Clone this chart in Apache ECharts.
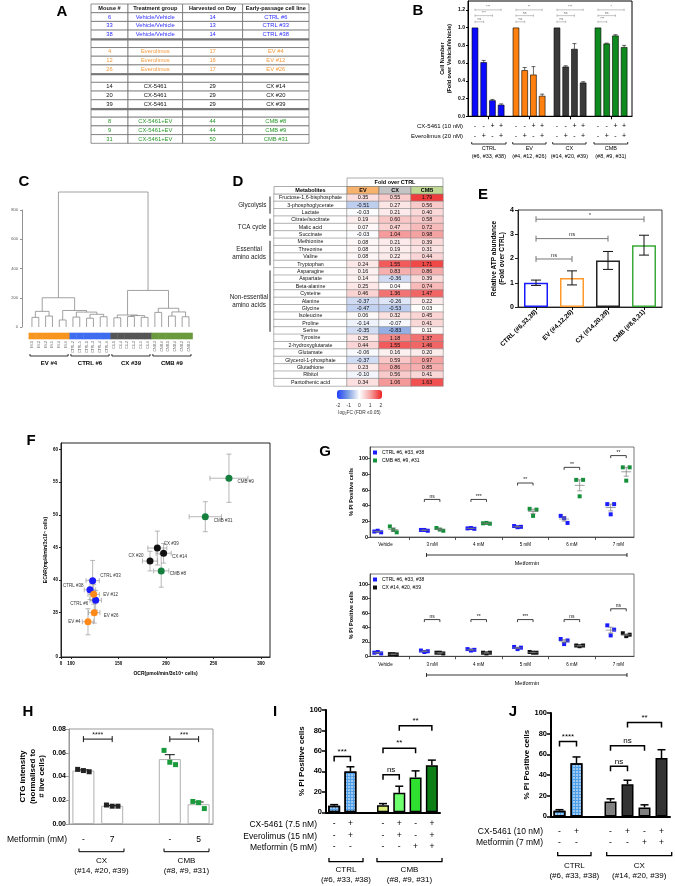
<!DOCTYPE html>
<html>
<head>
<meta charset="utf-8">
<script src="https://cdn.jsdelivr.net/npm/echarts@6.0.0/dist/echarts.min.js"></script>
<style>
html, body { margin: 0; padding: 0; background: #fff; }
#chart { width: 675px; height: 886px; }
</style>
</head>
<body>
<div id="chart"></div>
<script>
var FONT = 'Liberation Sans, Arial, Helvetica, sans-serif';

// ---------- A: mouse / cell line table ----------
var aHeader = ['Mouse #', 'Treatment group', 'Harvested on Day', 'Early-passage cell line'];
var aMouse = ['6', '33', '38', '', '4', '12', '26', '', '14', '20', '39', '', '8', '9', '31'];
var aTreatment = ['Vehicle/Vehicle', 'Vehicle/Vehicle', 'Vehicle/Vehicle', '', 'Everolimus', 'Everolimus', 'Everolimus', '', 'CX-5461', 'CX-5461', 'CX-5461', '', 'CX-5461+EV', 'CX-5461+EV', 'CX-5461+EV'];
var aDay = ['14', '13', '14', '', '17', '16', '17', '', '29', '29', '29', '', '44', '44', '50'];
var aCellLine = ['CTRL #6', 'CTRL #33', 'CTRL #38', '', 'EV #4', 'EV #12', 'EV #26', '', 'CX #14', 'CX #20', 'CX #39', '', 'CMB #8', 'CMB #9', 'CMB #31'];
var aRowGroup = [0, 0, 0, -1, 1, 1, 1, -1, 2, 2, 2, -1, 3, 3, 3];

// ---------- B: cell number ----------
var bGroups = ['CTRL', 'EV', 'CX', 'CMB'];
var bGroupIds = ['(#6, #33, #38)', '(#4, #12, #26)', '(#14, #20, #39)', '(#8, #9, #31)'];
var bCX = ['-', '-', '+', '+'];
var bEV = ['-', '+', '-', '+'];
var bMean = [[1.0, 0.61, 0.18, 0.13], [1.0, 0.52, 0.47, 0.23], [1.0, 0.56, 0.76, 0.38], [1.0, 0.82, 0.91, 0.78]];
var bErr = [[0, 0.02, 0.01, 0.01], [0, 0.03, 0.09, 0.02], [0, 0.01, 0.06, 0.01], [0, 0.005, 0.01, 0.02]];
var bSig = [['***', '***', 'ns'], ['**', 'ns', 'ns'], ['***', 'ns', 'ns'], ['*', 'ns', '***']];
var bSigY = [1.20, 1.135, 1.065];

// ---------- C: dendrogram ----------
var cLeaves = ['EV-1', 'EV-3', 'EV-2', 'EV-5', 'EV-4', 'EV-6', 'CTRL-2', 'CTRL-5', 'CTRL-1', 'CTRL-3', 'CTRL-4', 'CTRL-6',
  'CX-1', 'CX-4', 'CX-2', 'CX-3', 'CX-5', 'CX-6', 'CMB-3', 'CMB-6', 'CMB-1', 'CMB-4', 'CMB-2', 'CMB-5'];
var cLeafGroup = [0, 0, 0, 0, 0, 0, 1, 1, 1, 1, 1, 1, 2, 2, 2, 2, 2, 2, 3, 3, 3, 3, 3, 3];
var cGroupNames = ['EV #4', 'CTRL #6', 'CX #39', 'CMB #9'];
// [child a, child b, height]; new node ids start at 24
var cMerges = [[0, 1, 66], [2, 3, 75], [24, 25, 107], [4, 5, 48], [6, 7, 68], [8, 9, 60], [10, 11, 70], [29, 30, 87],
  [28, 31, 102], [27, 32, 113], [26, 33, 200], [12, 13, 63], [14, 15, 72], [16, 17, 66], [36, 37, 78], [35, 38, 82],
  [18, 19, 100], [20, 21, 75], [22, 23, 70], [41, 42, 103], [40, 43, 128], [39, 44, 250], [34, 45, 923]];

// ---------- D: metabolite heat table ----------
var dMetabolites = ['Fructose-1,6-bisphosphate', '3-phosphoglycerate', 'Lactate', 'Citrate/isocitrate', 'Malic acid', 'Succinate',
  'Methionine', 'Threonine', 'Valine', 'Tryptophan', 'Asparagine', 'Aspartate', 'Beta-alanine', 'Cysteine', 'Alanine', 'Glycine',
  'Isoleucine', 'Proline', 'Serine', 'Tyrosine', '2-hydroxyglutarate', 'Glutamate', 'Glycerol-1-phosphate', 'Glutathione', 'Ribitol', 'Pantothenic acid'];
var dCols = ['EV', 'CX', 'CMB'];
var dEV = [0.35, -0.51, -0.03, 0.19, 0.07, -0.03, 0.08, 0.08, 0.08, 0.24, 0.16, 0.14, 0.25, 0.46, -0.37, -0.47, 0.06, -0.14, -0.35, 0.25, 0.44, -0.06, -0.37, 0.23, -0.10, 0.34];
var dCX = [0.55, 0.27, 0.21, 0.60, 0.47, 1.04, 0.21, 0.19, 0.22, 1.55, 0.83, -0.36, 0.04, 1.36, -0.26, -0.53, 0.32, -0.07, -0.83, 1.18, 1.55, 0.16, 0.59, 0.86, 0.56, 1.06];
var dCMB = [1.79, 0.56, 0.40, 0.58, 0.72, 0.98, 0.39, 0.31, 0.44, 1.71, 0.86, 0.39, 0.74, 1.47, 0.22, 0.03, 0.45, 0.41, 0.11, 1.37, 1.46, 0.20, 0.97, 0.85, 0.41, 1.63];
var dPathways = [['Glycolysis', 0, 2], ['TCA cycle', 3, 5], ['Essential\namino acids', 6, 9], ['Non-essential\namino acids', 10, 18]];
var dScaleTicks = ['-2', '-1', '0', '1', '2'];

// ---------- E: ATP ----------
var eCats = ['CTRL (#6,33,38)', 'EV (#4,12,26)', 'CX (#14,20,39)', 'CMB (#8,9,31)'];
var eMean = [1.0, 1.2, 1.92, 2.55];
var eErr = [0.11, 0.29, 0.37, 0.41];
var eSig = [[0, 1, 1.98, 'ns'], [0, 2, 2.82, 'ns'], [0, 3, 3.62, '*']];

// ---------- F: OCR vs ECAR ----------
var fNames = ['CTRL #6', 'CTRL #33', 'CTRL #38', 'EV #4', 'EV #12', 'EV #26', 'CX #14', 'CX #20', 'CX #39', 'CMB #8', 'CMB #9', 'CMB #31'];
var fGroup = [0, 0, 0, 1, 1, 1, 2, 2, 2, 3, 3, 3];
var fOCR = [126, 122.8, 120, 117.9, 123.9, 124.5, 197.5, 183.2, 190.9, 195, 266.3, 241.4];
var fECAR = [36.9, 39.9, 38.5, 33.6, 37.8, 35.0, 44.1, 42.9, 44.9, 41.4, 55.6, 49.7];
var fOCRerr = [6, 7, 6, 6, 6, 6, 8, 8, 10, 8, 20, 17];
var fECARerr = [1.5, 3.1, 1.5, 2.0, 1.5, 1.6, 1.5, 1.5, 2.6, 2.5, 3.7, 2.3];

// ---------- G: PI positive, metformin dose ----------
var gDoses = ['Vehicle', '3 mM', '4 mM', '5 mM', '6 mM', '7 mM'];
var gCtrlTop = [[7, 6, 8], [9, 8, 9], [11, 10.5, 11.5], [14, 13, 12.5], [27, 18, 24], [42, 42, 29]];
var gCmb = [[13.5, 6, 9], [11.5, 8, 9.5], [17.5, 17, 18], [36, 35, 27], [73, 73, 52], [89, 89, 72]];
var gSigTop = ['', 'ns', '***', '**', '**', '**'];
var gSigTopY = [0, 48, 48, 69, 89, 104];
var gCtrlBot = [[5, 4, 6], [8, 7, 6], [10, 9, 8], [13, 12, 10], [24, 22, 17], [43, 37, 29]];
var gCx = [[3, 2.5, 3], [5, 4, 5], [5, 5, 4], [6, 5, 5], [15, 15, 14], [32, 30, 28]];
var gSigBot = ['', 'ns', '**', '***', 'ns', 'ns'];
var gSigBotY = [0, 51, 51, 51, 51, 66];

// ---------- H: CTG ----------
var hLabels = ['-', '7', '', '-', '5'];
var hCx = [[0.046, 0.044, 0.045], [0.016, 0.015, 0.015]];
var hCmb = [[0.062, 0.050, 0.052], [0.019, 0.013, 0.018]];
var hSig = [[0, 1, 0.0715, '****'], [3, 4, 0.0715, '***']];

// ---------- I: CTRL vs CMB ----------
var iCX = ['-', '+', '', '-', '+', '-', '+'];
var iEV = ['-', '+', '', '-', '+', '-', '+'];
var iMet = ['-', '-', '', '-', '-', '+', '+'];
var iMean = [6.5, 40, null, 7, 19, 34, 46];
var iErr = [1, 4.5, null, 1.5, 6.5, 6.5, 5];
var iSig = [[0, 1, 54.5, '***'], [3, 4, 36.6, 'ns'], [3, 5, 62.7, '**'], [4, 6, 84.6, '**']];

// ---------- J: CTRL vs CX ----------
var jCX = ['-', '+', '', '-', '+', '-', '+'];
var jMet = ['-', '-', '', '-', '-', '+', '+'];
var jMean = [5.5, 51.5, null, 14.5, 31, 8.7, 56.5];
var jErr = [1, 6, null, 2.5, 4, 2.5, 8];
var jSig = [[0, 1, 72.5, '****'], [3, 4, 48.4, 'ns'], [3, 5, 68.4, 'ns'], [4, 6, 90.9, '**']];

// ================= helpers =================
function fnt(size, bold) { return (bold ? 'bold ' : '') + size + 'px ' + FONT; }
function mean(a) { return a.reduce(function (s, v) { return s + v; }, 0) / a.length; }
function sem(a) {
  var m = mean(a);
  var v = a.reduce(function (s, x) { return s + (x - m) * (x - m); }, 0) / (a.length - 1);
  return Math.sqrt(v / a.length);
}
function tx(x, y, s, size, o) {
  o = o || {};
  return { type: 'text', x: x, y: y, silent: true, z: 50,
    style: { text: s, font: fnt(size, o.bold), fill: o.color || '#000', align: o.align || 'center', textAlign: o.align || 'center',
      verticalAlign: 'middle', textVerticalAlign: 'middle', lineHeight: o.lh } };
}
function pl(pts, lw, color) {
  return { type: 'polyline', silent: true, z: 50, shape: { points: pts }, style: { stroke: color || '#000', lineWidth: lw || 1, fill: null } };
}
function lineEl(x1, y1, x2, y2, st) { return { type: 'line', shape: { x1: x1, y1: y1, x2: x2, y2: y2 }, style: st }; }

// error bars: pts [x, y, ey, ex]
function errBars(ax, pts, o) {
  return {
    type: 'custom', xAxisIndex: ax, yAxisIndex: ax, silent: true, z: o.z || 4, clip: false,
    data: pts.map(function (p) { return [p[0], p[1]]; }),
    renderItem: function (params, api) {
      var p = pts[params.dataIndex], st = { stroke: o.color, lineWidth: o.lw }, kids = [];
      var c = api.coord([p[0], p[1]]);
      var hi = api.coord([p[0], p[1] + p[2]]);
      var lo = o.up ? c : api.coord([p[0], p[1] - p[2]]);
      kids.push(lineEl(c[0], lo[1], c[0], hi[1], st));
      kids.push(lineEl(c[0] - o.cap, hi[1], c[0] + o.cap, hi[1], st));
      if (!o.up) kids.push(lineEl(c[0] - o.cap, lo[1], c[0] + o.cap, lo[1], st));
      if (p[3]) {
        var l = api.coord([p[0] - p[3], p[1]]), r = api.coord([p[0] + p[3], p[1]]);
        kids.push(lineEl(l[0], c[1], r[0], c[1], st));
        kids.push(lineEl(l[0], c[1] - o.cap, l[0], c[1] + o.cap, st));
        kids.push(lineEl(r[0], c[1] - o.cap, r[0], c[1] + o.cap, st));
      }
      return { type: 'group', children: kids };
    }
  };
}

// significance brackets: items [x1, x2, y, text]
function sigMarks(ax, items, o) {
  return {
    type: 'custom', xAxisIndex: ax, yAxisIndex: ax, silent: true, z: 6, clip: false,
    data: items.map(function (s) { return [s[0], s[2]]; }),
    renderItem: function (params, api) {
      var s = items[params.dataIndex];
      var a = api.coord([s[0], s[2]]), b = api.coord([s[1], s[2]]);
      var st = { stroke: o.color, lineWidth: o.lw, fill: null }, kids = [];
      if (o.mode === 'down') {
        kids.push({ type: 'polyline', shape: { points: [[a[0], a[1] + o.tick], [a[0], a[1]], [b[0], b[1]], [b[0], b[1] + o.tick]] }, style: st });
      } else {
        kids.push(lineEl(a[0], a[1], b[0], b[1], st));
        kids.push(lineEl(a[0], a[1] - o.tick, a[0], a[1] + o.tick, st));
        kids.push(lineEl(b[0], b[1] - o.tick, b[0], b[1] + o.tick, st));
      }
      kids.push({ type: 'text', x: (a[0] + b[0]) / 2, y: a[1] - o.gap,
        style: { text: s[3], font: fnt(o.size), fill: o.textColor || o.color, align: 'center', textAlign: 'center', verticalAlign: 'bottom', textVerticalAlign: 'bottom' } });
      return { type: 'group', children: kids };
    }
  };
}

// mean line + SEM for dot plots: stats [x, mean, sem]
function meanSem(ax, stats, o) {
  return {
    type: 'custom', xAxisIndex: ax, yAxisIndex: ax, silent: true, z: 5, clip: false,
    data: stats.map(function (s) { return [s[0], s[1]]; }),
    renderItem: function (params, api) {
      var s = stats[params.dataIndex], st = { stroke: o.color, lineWidth: o.lw };
      var m = api.coord([s[0], s[1]]), l = api.coord([s[0] - o.half, s[1]]), r = api.coord([s[0] + o.half, s[1]]);
      var hi = api.coord([s[0], s[1] + s[2]]), lo = api.coord([s[0], s[1] - s[2]]);
      return { type: 'group', children: [
        lineEl(l[0], m[1], r[0], m[1], st),
        lineEl(m[0], lo[1], m[0], hi[1], st),
        lineEl(m[0] - o.cap, hi[1], m[0] + o.cap, hi[1], st),
        lineEl(m[0] - o.cap, lo[1], m[0] + o.cap, lo[1], st)
      ] };
    }
  };
}

function valAxis(grid, o) {
  var a = {
    gridIndex: grid, type: 'value', min: o.min, max: o.max, interval: o.interval, inverse: o.inverse,
    axisLine: { show: true, onZero: false, lineStyle: { color: o.lineColor || '#000', width: o.lw || 1 } },
    axisTick: { show: o.tick !== false, length: o.tickLen || 3, lineStyle: { color: o.lineColor || '#000', width: o.tickW || o.lw || 1 } },
    axisLabel: { show: true, fontSize: o.fs || 6, fontWeight: o.bold ? 'bold' : 'normal', color: o.labelColor || '#000',
      margin: o.margin == null ? 3 : o.margin, fontFamily: FONT, lineHeight: o.lh },
    splitLine: { show: false }, splitArea: { show: false }
  };
  if (o.ticks) { a.axisTick.customValues = o.ticks; a.axisLabel.customValues = o.labels || o.ticks; }
  if (o.labels && !o.ticks) a.axisLabel.customValues = o.labels;
  if (o.tickValues) a.axisTick.customValues = o.tickValues;
  if (o.formatter) a.axisLabel.formatter = o.formatter;
  if (o.name) {
    a.name = o.name; a.nameLocation = 'middle'; a.nameGap = o.nameGap;
    if (o.vertical) a.nameRotate = 90;
    a.nameTextStyle = { fontSize: o.nameSize, fontWeight: 'bold', color: '#000', lineHeight: o.nameLh, fontFamily: FONT };
  }
  return a;
}
function catAxis(grid, data, o) {
  return {
    gridIndex: grid, type: 'category', data: data,
    axisLine: { show: true, onZero: false, lineStyle: { color: o.lineColor || '#000', width: o.lw || 1 } },
    axisTick: { show: !!o.tick, alignWithLabel: true, length: 3, lineStyle: { color: '#000', width: o.lw || 1 } },
    axisLabel: { interval: 0, fontSize: o.fs, fontWeight: o.bold ? 'bold' : 'normal', color: '#000', margin: o.margin,
      rotate: o.rotate || 0, lineHeight: o.lh, formatter: o.formatter, fontFamily: FONT },
    splitLine: { show: false }
  };
}
function hidden(grid, type, o) {
  var a = { gridIndex: grid, type: type, show: false };
  for (var k in o) a[k] = o[k];
  return a;
}

// ================= grids =================
var grids = [
  { left: 468, top: 1, width: 164, height: 115.3, show: true, borderColor: '#000', borderWidth: 1 },   // 0 B
  { left: 22, top: 210, width: 170, height: 117 },                                                  // 1 C
  { left: 274, top: 194, width: 73, height: 192 },                                                  // 2 D names
  { left: 347, top: 194, width: 96, height: 192 },                                                  // 3 D values
  { left: 518, top: 210, width: 144, height: 97, show: true, borderColor: '#444', borderWidth: 1 }, // 4 E
  { left: 61, top: 443, width: 209, height: 214, show: true, borderColor: '#222', borderWidth: 1 }, // 5 F
  { left: 370, top: 447, width: 264, height: 90, show: true, borderColor: '#555', borderWidth: 0.8 }, // 6 G top
  { left: 370, top: 574, width: 264, height: 82.3, show: true, borderColor: '#555', borderWidth: 0.8 }, // 7 G bottom
  { left: 69, top: 729, width: 144, height: 95, show: true, borderColor: '#999', borderWidth: 1 },  // 8 H
  { left: 326, top: 710, width: 114, height: 102.3 },                                               // 9 I
  { left: 551, top: 713, width: 119, height: 103.4 },                                               // 10 J
  { left: 91, top: 4, width: 218, height: 139.3 }                                                   // 11 A
];
grids.forEach(function (g) { g.containLabel = false; g.outerBoundsMode = 'none'; g.backgroundColor = 'transparent'; });

// ================= axes =================
var bPos = [];
for (var g = 0; g < 4; g++) for (var i = 0; i < 4; i++) bPos.push(g * 4.7 + i);
var bTickVals = [0, 0.2, 0.4, 0.6, 0.8, 1.0, 1.2];

var xAxes = [], yAxes = [];
// B
xAxes[0] = valAxis(0, { min: -0.8, max: 18.0, fs: 7, margin: 5, lh: 10, tickLen: 3, lw: 1,
  tickValues: [1.5, 6.2, 10.9, 15.6], labels: bPos,
  formatter: function (v) {
    var k = bPos.findIndex(function (p) { return Math.abs(p - v) < 1e-6; });
    if (k < 0) return '';
    return bCX[k % 4] + '\n' + bEV[k % 4];
  } });
yAxes[0] = valAxis(0, { min: 0, max: 1.3, ticks: bTickVals, fs: 5, bold: true, tickLen: 2, margin: 3,
  formatter: function (v) { return v.toFixed(1); },
  name: 'Cell Number\n(Fold over Vehicle/Vehicle)', nameGap: 15, nameSize: 5.5, nameLh: 7, vertical: true });
// C
xAxes[1] = hidden(1, 'value', { min: -1.46, max: 23.44 });
yAxes[1] = valAxis(1, { min: 0, max: 800, interval: 200, fs: 4, lineColor: '#777', labelColor: '#555', lw: 0.8, tickLen: 2, margin: 4 });
// D
xAxes[2] = hidden(2, 'category', { data: ['Metabolites'] });
yAxes[2] = hidden(2, 'category', { data: dMetabolites, inverse: true });
xAxes[3] = hidden(3, 'category', { data: dCols });
yAxes[3] = hidden(3, 'category', { data: dMetabolites, inverse: true });
// E
xAxes[4] = catAxis(4, eCats, { fs: 6.5, bold: true, margin: 4, rotate: 45, tick: true, lineColor: '#222' });
yAxes[4] = valAxis(4, { min: 0, max: 4, interval: 1, fs: 7, bold: true, margin: 4, tickLen: 3, lineColor: '#222',
  name: 'Relative ATP abundance\n(Fold over CTRL)', nameGap: 12, nameSize: 6.5, nameLh: 8, vertical: true });
// F
xAxes[5] = valAxis(5, { min: 89.5, max: 309.5, ticks: [89.5, 100, 150, 200, 250, 300], fs: 4.5, bold: true, tickLen: 2, margin: 4, lineColor: '#222',
  formatter: function (v) { return v < 95 ? '0' : String(v); },
  name: 'OCR(pmol/min/3x10\u2074 cells)', nameGap: 14, nameSize: 5 });
yAxes[5] = valAxis(5, { min: 28.2, max: 61, ticks: [28.2, 35, 40, 45, 50, 55, 60], fs: 4.5, bold: true, tickLen: 2, margin: 3, lineColor: '#222',
  formatter: function (v) { return v < 30 ? '0' : String(v); },
  name: 'ECAR(mpH/min/3x10\u2074 cells)', nameGap: 13, nameSize: 5, vertical: true });
// G
[6, 7].forEach(function (gi) {
  xAxes[gi] = valAxis(gi, { min: -0.5, max: 16.5, tickValues: [2, 5, 8, 11, 14], labels: [0.5, 3.5, 6.5, 9.5, 12.5, 15.5],
    fs: 4.5, margin: gi === 6 ? 5.5 : 6, tickLen: 3, lw: 0.8, lineColor: '#333',
    formatter: function (v) { return gDoses[Math.round((v - 0.5) / 3)]; } });
  yAxes[gi] = valAxis(gi, { min: 0, max: gi === 6 ? 115 : 114.3, ticks: [0, 20, 40, 60, 80, 100], fs: 5.5, bold: true,
    tickLen: 2, margin: 2, lw: 0.8, lineColor: '#333',
    name: '% PI Positive cells', nameGap: 13, nameSize: 5.5, vertical: true });
});
// H
xAxes[8] = valAxis(8, { min: -0.5, max: 4.5, labels: [0, 1, 3, 4], tick: false, fs: 8.5, margin: 11, lineColor: '#999',
  formatter: function (v) { return hLabels[Math.round(v)]; } });
yAxes[8] = valAxis(8, { min: 0, max: 0.08, interval: 0.02, fs: 7, bold: true, margin: 3, tickLen: 3, lineColor: '#999',
  formatter: function (v) { return v.toFixed(2); },
  name: 'CTG intensity\n(normalised to\n# live cells)', nameGap: 22, nameSize: 8, nameLh: 9.5, vertical: true });
// I
xAxes[9] = catAxis(9, ['a', 'b', 'gap', 'c', 'd', 'e', 'f'], { fs: 8.5, margin: 6, lh: 11.3, lw: 2,
  formatter: function (v, idx) { return iCX[idx] ? iCX[idx] + '\n' + iEV[idx] + '\n' + iMet[idx] : ''; } });
yAxes[9] = valAxis(9, { min: 0, max: 100, interval: 20, fs: 7.5, bold: true, margin: 4, tickLen: 4, lw: 2, tickW: 1.5,
  name: '% PI Positive cells', nameGap: 19, nameSize: 8, vertical: true });
// J
xAxes[10] = catAxis(10, ['a', 'b', 'gap', 'c', 'd', 'e', 'f'], { fs: 8.5, margin: 10, lh: 11, lw: 2,
  formatter: function (v, idx) { return jCX[idx] ? jCX[idx] + '\n' + jMet[idx] : ''; } });
yAxes[10] = valAxis(10, { min: 0, max: 100, interval: 20, fs: 7.5, bold: true, margin: 4, tickLen: 4, lw: 2, tickW: 1.5,
  name: '% PI Positive cells', nameGap: 19, nameSize: 8, vertical: true });
// A
xAxes[11] = hidden(11, 'value', { min: 0, max: 218 });
yAxes[11] = hidden(11, 'value', { min: 0, max: 16, inverse: true });

// ================= series =================
var series = [];

// A table
var aEdges = [0, 37, 91.6, 151.6, 218];
var aColors = ['#2f2fff', '#f59a3c', '#111111', '#2a9a2a'];
var aCells = [];
for (var r = 0; r <= aMouse.length; r++) for (var c = 0; c < 4; c++) aCells.push([c, r]);
series.push({
  type: 'custom', xAxisIndex: 11, yAxisIndex: 11, silent: true, clip: false, data: aCells,
  renderItem: function (params, api) {
    var c = api.value(0), r = api.value(1);
    var p0 = api.coord([aEdges[c], r]), p1 = api.coord([aEdges[c + 1], r + 1]);
    var s, col = '#111', bold = false, blank = false;
    if (r === 0) { s = aHeader[c]; bold = true; }
    else {
      var k = r - 1;
      s = [aMouse, aTreatment, aDay, aCellLine][c][k];
      blank = aRowGroup[k] < 0;
      if (!blank) col = aColors[aRowGroup[k]];
    }
    var kids = [{ type: 'rect', shape: { x: p0[0], y: p0[1], width: p1[0] - p0[0], height: p1[1] - p0[1] },
      style: { fill: '#fff', stroke: '#666', lineWidth: 0.7 } }];
    if (blank) kids.push(lineEl(p0[0], p0[1] + 0.9, p1[0], p0[1] + 0.9, { stroke: '#777', lineWidth: 1.6 }));
    kids.push({ type: 'text', x: (p0[0] + p1[0]) / 2, y: (p0[1] + p1[1]) / 2,
      style: { text: s, font: fnt(bold ? 5.6 : 5.8, bold), fill: col, align: 'center', textAlign: 'center', verticalAlign: 'middle', textVerticalAlign: 'middle' } });
    return { type: 'group', children: kids };
  }
});

// B bars
var bColors = ['#0a0aff', '#ff800e', '#3a3a3a', '#0e8a1e'];
var bBarData = [], bErrPts = [], bSigItems = [];
bMean.forEach(function (vals, g) {
  vals.forEach(function (v, i) {
    bBarData.push({ value: [bPos[g * 4 + i], v], itemStyle: { color: bColors[g], borderColor: '#000', borderWidth: 0.6 } });
    if (bErr[g][i] > 0) bErrPts.push([bPos[g * 4 + i], v, bErr[g][i]]);
  });
  for (var s = 0; s < 3; s++) bSigItems.push([bPos[g * 4], bPos[g * 4 + 3 - s], bSigY[s], bSig[g][s]]);
});
series.push({ type: 'bar', xAxisIndex: 0, yAxisIndex: 0, barWidth: 6.5, data: bBarData, silent: true });
series.push(errBars(0, bErrPts, { color: '#000', lw: 0.6, cap: 2, up: true }));
series.push(sigMarks(0, bSigItems, { mode: 'cap', color: '#888', textColor: '#666', lw: 0.5, tick: 1.2, size: 3.5, gap: 0.5 }));

// C dendrogram
var cColors = ['#f7951e', '#3d6cf0', '#555555', '#6b9a3c'];
var cNodeX = cLeaves.map(function (_, i) { return i; });
var cNodeH = cLeaves.map(function () { return 0; });
cMerges.forEach(function (m) { cNodeX.push((cNodeX[m[0]] + cNodeX[m[1]]) / 2); cNodeH.push(m[2]); });
series.push({
  type: 'custom', xAxisIndex: 1, yAxisIndex: 1, silent: true, clip: false,
  data: cMerges.map(function (m, k) { return [cNodeX[24 + k], m[2]]; }),
  renderItem: function (params, api) {
    var m = cMerges[params.dataIndex];
    var a = api.coord([cNodeX[m[0]], cNodeH[m[0]]]), b = api.coord([cNodeX[m[1]], cNodeH[m[1]]]);
    var t = api.coord([0, m[2]])[1];
    return { type: 'polyline', shape: { points: [a, [a[0], t], [b[0], t], b] }, style: { stroke: '#8a8a8a', lineWidth: 0.8, fill: null } };
  }
});
series.push({
  type: 'custom', xAxisIndex: 1, yAxisIndex: 1, silent: true, clip: false,
  data: cLeaves.map(function (_, i) { return [i, 0]; }),
  renderItem: function (params, api) {
    var i = params.dataIndex, l = api.coord([i - 0.5, 0]), r = api.coord([i + 0.5, 0]);
    return { type: 'group', children: [
      { type: 'rect', shape: { x: l[0], y: l[1] + 5.7, width: r[0] - l[0] + 0.4, height: 6.6 }, style: { fill: cColors[cLeafGroup[i]] } },
      { type: 'text', x: (l[0] + r[0]) / 2, y: l[1] + 14, rotation: Math.PI / 2,
        style: { text: cLeaves[i], font: fnt(3.4), fill: '#555', align: 'right', textAlign: 'right', verticalAlign: 'middle', textVerticalAlign: 'middle' } }
    ] };
  }
});

// D heat table
series.push({
  type: 'heatmap', xAxisIndex: 2, yAxisIndex: 2, silent: true,
  data: dMetabolites.map(function (n, i) { return { value: [0, i, 0], name: n }; }),
  itemStyle: { color: '#fff', borderColor: '#888', borderWidth: 0.6 },
  label: { show: true, fontSize: 5.3, color: '#111', fontFamily: FONT, formatter: function (p) { return p.name; } }
});
var dSeriesIndex = series.length;
var dData = [];
[dEV, dCX, dCMB].forEach(function (col, c) { col.forEach(function (v, r) { dData.push([c, r, v]); }); });
series.push({
  type: 'heatmap', xAxisIndex: 3, yAxisIndex: 3, silent: true, data: dData,
  itemStyle: { borderColor: '#888', borderWidth: 0.6 },
  label: { show: true, fontSize: 5.5, color: '#111', fontFamily: FONT, formatter: function (p) { return p.value[2].toFixed(2); } }
});

// E
var eColors = ['#1a1aff', '#ff9a2a', '#222222', '#3aaa3a'];
series.push({ type: 'bar', xAxisIndex: 4, yAxisIndex: 4, barWidth: 24, silent: true,
  data: eMean.map(function (v, i) { return { value: v, itemStyle: { color: '#fff', borderColor: eColors[i], borderWidth: 1.5 } }; }) });
series.push(errBars(4, eMean.map(function (v, i) { return [i, v, eErr[i]]; }), { color: '#111', lw: 1, cap: 5 }));
series.push(sigMarks(4, eSig, { mode: 'cap', color: '#777', textColor: '#333', lw: 1, tick: 3, size: 6, gap: 1 }));

// F
var fColors = ['#1a1aff', '#ff8a1a', '#111111', '#15803d'];
var fLabelPos = [['left', [-1, 4]], ['right', [1, -5]], ['left', [0, -4]], ['left', [-1, 0]], ['right', [3, 0]], ['right', [3, 3]],
  ['right', [2, 4]], ['left', [0, -5]], ['right', [0, -4]], ['right', [2, 3]], ['right', [2, 4]], ['right', [2, 4]]];
series.push(errBars(5, fNames.map(function (_, i) { return [fOCR[i], fECAR[i], fECARerr[i], fOCRerr[i]]; }),
  { color: '#9a9a9a', lw: 0.7, cap: 2.5 }));
[0, 1, 2, 3].forEach(function (g) {
  var pts = [];
  fNames.forEach(function (n, i) {
    if (fGroup[i] !== g) return;
    pts.push({ value: [fOCR[i], fECAR[i]], name: n, label: { position: fLabelPos[i][0], offset: fLabelPos[i][1] } });
  });
  series.push({ type: 'scatter', xAxisIndex: 5, yAxisIndex: 5, symbolSize: 7, silent: true, z: 6, data: pts,
    itemStyle: { color: fColors[g], opacity: 1 },
    label: { show: true, fontSize: 4.5, color: '#333', fontFamily: FONT, distance: 3, formatter: function (p) { return p.name; } } });
});

// G
var gJit = [-0.22, 0.22, 0];
function gPanel(ax, ctrl, other, ctrlName, otherName, otherColor, sigText, sigY) {
  var cPts = [], oPts = [], stats = [], sigs = [];
  ctrl.forEach(function (reps, d) {
    reps.forEach(function (v, k) { cPts.push([d * 3 + gJit[k], v]); });
    other[d].forEach(function (v, k) { oPts.push([d * 3 + 1 + gJit[k], v]); });
    stats.push([d * 3, mean(reps), sem(reps)]);
    stats.push([d * 3 + 1, mean(other[d]), sem(other[d])]);
    if (sigText[d]) sigs.push([d * 3, d * 3 + 1, sigY[d], sigText[d]]);
  });
  series.push({ type: 'scatter', name: ctrlName, xAxisIndex: ax, yAxisIndex: ax, symbol: 'rect', symbolSize: 4, silent: true,
    itemStyle: { color: '#1a1aff', opacity: 1 }, data: cPts });
  series.push({ type: 'scatter', name: otherName, xAxisIndex: ax, yAxisIndex: ax, symbol: 'rect', symbolSize: 4, silent: true,
    itemStyle: { color: otherColor, opacity: 1 }, data: oPts });
  series.push(meanSem(ax, stats, { color: '#777', lw: 0.7, half: 0.32, cap: 2.5 }));
  series.push(sigMarks(ax, sigs, { mode: 'down', color: '#111', lw: 0.8, tick: 2.5, size: 5, gap: 0.5 }));
}
gPanel(6, gCtrlTop, gCmb, 'CTRL #6, #33, #38', 'CMB #8, #9, #31', '#15903a', gSigTop, gSigTopY);
gPanel(7, gCtrlBot, gCx, 'CTRL #6, #33, #38 ', 'CX #14, #20, #39', '#111111', gSigBot, gSigBotY);

// H
var hJit = [-0.2, 0.2, 0];
var hGroups = [[0, hCx[0], '#222'], [1, hCx[1], '#222'], [3, hCmb[0], '#1a9a3a'], [4, hCmb[1], '#1a9a3a']];
series.push({ type: 'bar', xAxisIndex: 8, yAxisIndex: 8, barWidth: 22, silent: true,
  data: hGroups.map(function (h) { return [h[0], mean(h[1])]; }),
  itemStyle: { color: '#fff', borderColor: '#b0b0b0', borderWidth: 1 } });
series.push(errBars(8, hGroups.map(function (h) { return [h[0], mean(h[1]), sem(h[1])]; }), { color: '#111', lw: 1, cap: 5, up: true }));
[['#222', 0, 2], ['#1a9a3a', 2, 4]].forEach(function (cfg) {
  var pts = [];
  hGroups.slice(cfg[1], cfg[2]).forEach(function (h) { h[1].forEach(function (v, k) { pts.push([h[0] + hJit[k], v]); }); });
  series.push({ type: 'scatter', xAxisIndex: 8, yAxisIndex: 8, symbol: 'rect', symbolSize: 5, silent: true, z: 6,
    itemStyle: { color: cfg[0], opacity: 1 }, data: pts });
});
series.push(sigMarks(8, hSig, { mode: 'cap', color: '#111', lw: 1, tick: 3, size: 7, gap: 1 }));

// I and J
var hatch = { symbol: 'rect', symbolSize: 1, color: 'rgba(255,255,255,0.45)', dashArrayX: [2, 1], dashArrayY: [2, 1] };
function pairPanel(ax, means, errs, colors, sigs) {
  series.push({ type: 'bar', xAxisIndex: ax, yAxisIndex: ax, barWidth: 12, silent: true,
    data: means.map(function (v, i) {
      if (v == null) return '-';
      var st = { color: colors[i], borderColor: '#000', borderWidth: 1.5 };
      if (i < 2) st.decal = hatch;
      return { value: v, itemStyle: st };
    }) });
  var pts = [];
  means.forEach(function (v, i) { if (v != null) pts.push([i, v, errs[i]]); });
  series.push(errBars(ax, pts, { color: '#000', lw: 1.5, cap: 4, up: true }));
  series.push(sigMarks(ax, sigs, { mode: 'down', color: '#000', lw: 1.5, tick: 5, size: 8, gap: 1 }));
}
pairPanel(9, iMean, iErr, ['#4f9fe8', '#4f9fe8', null, '#dbf07c', '#6dff6d', '#30e030', '#0d7f16'], iSig);
pairPanel(10, jMean, jErr, ['#4f9fe8', '#4f9fe8', null, '#808080', '#333333', '#808080', '#333333'], jSig);

// ================= graphics (panel letters, row titles, brackets) =================
var gfx = [];
[['A', 62, 12], ['B', 418, 11], ['C', 24, 182], ['D', 238, 182], ['E', 483, 195], ['F', 31, 441],
 ['G', 325, 452], ['H', 28, 712], ['I', 275, 712], ['J', 513, 712]].forEach(function (l) {
  gfx.push(tx(l[1], l[2], l[0], 15, { bold: true }));
});

// B
gfx.push(tx(463, 126, 'CX-5461 (10 nM)', 6, { align: 'right' }));
gfx.push(tx(463, 136, 'Everolimus (20 nM)', 6, { align: 'right' }));
[[471.7, 506], [512.7, 546], [552.7, 586], [594, 627.7]].forEach(function (b, g) {
  gfx.push(pl([[b[0], 142], [b[0], 144], [b[1], 144], [b[1], 142]], 0.8));
  gfx.push(tx((b[0] + b[1]) / 2, 148.5, bGroups[g], 5.5));
  gfx.push(tx((b[0] + b[1]) / 2, 156, bGroupIds[g], 5.5));
});

// C
function cpx(i) { return 22 + (i + 1.46) * 170 / 24.9; }
[0, 1, 2, 3].forEach(function (g) {
  var x1 = cpx(g * 6) - 2, x2 = cpx(g * 6 + 5) + 2;
  gfx.push(pl([[x1, 354], [x1, 356], [x2, 356], [x2, 354]], 0.8));
  gfx.push(tx((x1 + x2) / 2, 363, cGroupNames[g], 6, { bold: true }));
});

// D header, pathway labels, colour scale labels
var dHeadColors = ['#f7b26e', '#c4c4c4', '#bfd893'];
gfx.push({ type: 'rect', silent: true, z: 49, shape: { x: 347, y: 178, width: 96, height: 8.5 }, style: { fill: '#fff', stroke: '#777', lineWidth: 0.6 } });
gfx.push(tx(395, 182.3, 'Fold over CTRL', 5.5, { bold: true }));
gfx.push({ type: 'rect', silent: true, z: 49, shape: { x: 274, y: 186.5, width: 73, height: 7.5 }, style: { fill: '#fff', stroke: '#777', lineWidth: 0.6 } });
gfx.push(tx(310.5, 190.3, 'Metabolites', 5.5, { bold: true }));
dCols.forEach(function (c, i) {
  gfx.push({ type: 'rect', silent: true, z: 49, shape: { x: 347 + 32 * i, y: 186.5, width: 32, height: 7.5 }, style: { fill: dHeadColors[i], stroke: '#777', lineWidth: 0.6 } });
  gfx.push(tx(363 + 32 * i, 190.3, c, 5.5, { bold: true }));
});
var dRowH = 192 / 26;
dPathways.forEach(function (p) {
  var y1 = 194 + p[1] * dRowH + 2.5, y2 = 194 + (p[2] + 1) * dRowH - 2.5;
  gfx.push(pl([[270, y1], [270, y2]], 1, '#222'));
  var multi = p[0].indexOf('\n') >= 0;
  gfx.push(tx(multi ? 249 : 266.5, (y1 + y2) / 2 + (multi ? 0 : 0), p[0], 6.3, { align: multi ? 'center' : 'right', lh: 8, color: '#222' }));
});
dScaleTicks.forEach(function (t, i) { gfx.push(tx(338 + i * 10.7, 406, t, 5, { color: '#333' })); });
gfx.push(tx(359.5, 413, 'log\u2082FC (FDR \u22640.05)', 4.8, { color: '#333' }));

// G metformin brackets
[[555, 563], [675, 683]].forEach(function (m) {
  gfx.push(pl([[426.5, m[0]], [627, m[0]]], 0.8));
  gfx.push(pl([[426.5, m[0] - 2], [426.5, m[0] + 2]], 0.8));
  gfx.push(pl([[627, m[0] - 2], [627, m[0] + 2]], 0.8));
  gfx.push(tx(527, m[1], 'Metformin', 5.5));
});

// H
gfx.push(tx(67, 840, 'Metformin (mM)', 8.5, { align: 'right' }));
[[79, 124, 'CX', '(#14, #20, #39)'], [164, 209, 'CMB', '(#8, #9, #31)']].forEach(function (b) {
  gfx.push(pl([[b[0], 848.5], [b[0], 851.7], [b[1], 851.7], [b[1], 848.5]], 1));
  gfx.push(tx((b[0] + b[1]) / 2, 861, b[2], 8));
  gfx.push(tx((b[0] + b[1]) / 2, 871, b[3], 8));
});

// I
gfx.push(tx(317, 825, 'CX-5461 (7.5 nM)', 8.5, { align: 'right' }));
gfx.push(tx(317, 836.5, 'Everolimus (15 nM)', 8.5, { align: 'right' }));
gfx.push(tx(317, 847.8, 'Metformin (5 mM)', 8.5, { align: 'right' }));
[[329, 363, 'CTRL', '(#6, #33, #38)'], [377, 442, 'CMB', '(#8, #9, #31)']].forEach(function (b) {
  gfx.push(pl([[b[0], 858], [b[0], 861.7], [b[1], 861.7], [b[1], 858]], 1.3));
  gfx.push(tx((b[0] + b[1]) / 2, 870, b[2], 8));
  gfx.push(tx((b[0] + b[1]) / 2, 880, b[3], 8));
});

// J
gfx.push(tx(543, 831.7, 'CX-5461 (10 nM)', 8.5, { align: 'right' }));
gfx.push(tx(543, 842.7, 'Metformin (7 mM)', 8.5, { align: 'right' }));
[[557.7, 591, 'CTRL', '(#6, #33, #38)'], [606.7, 671.7, 'CX', '(#14, #20, #39)']].forEach(function (b) {
  gfx.push(pl([[b[0], 852], [b[0], 855.7], [b[1], 855.7], [b[1], 852]], 1.3));
  gfx.push(tx((b[0] + b[1]) / 2, 866, b[2], 8));
  gfx.push(tx((b[0] + b[1]) / 2, 876, b[3], 8));
});

// ================= option =================
var legendBase = { orient: 'vertical', left: 373, itemWidth: 4, itemHeight: 4, itemGap: 3, icon: 'rect', padding: 0,
  selectedMode: false, textStyle: { fontSize: 5, color: '#000', fontFamily: FONT }, itemStyle: { borderWidth: 0 } };
var legends = [
  Object.assign({}, legendBase, { top: 450, data: ['CTRL #6, #33, #38', 'CMB #8, #9, #31'] }),
  Object.assign({}, legendBase, { top: 577, data: ['CTRL #6, #33, #38 ', 'CX #14, #20, #39'] })
];

var chart = echarts.init(document.getElementById('chart'));
chart.setOption({
  animation: false,
  backgroundColor: '#fff',
  textStyle: { fontFamily: FONT },
  grid: grids,
  xAxis: xAxes,
  yAxis: yAxes,
  legend: legends,
  visualMap: [{
    type: 'continuous', seriesIndex: dSeriesIndex, min: -2, max: 2, orient: 'horizontal',
    left: 337, top: 390, itemWidth: 9, itemHeight: 45, calculable: false, padding: 0, showLabel: false,
    inRange: { color: ['#1f3fff', '#7f9fe0', '#ffffff', '#f5a0a0', '#ee2222'] }
  }],
  series: series,
  graphic: { elements: gfx }
});
</script>
</body>
</html>
